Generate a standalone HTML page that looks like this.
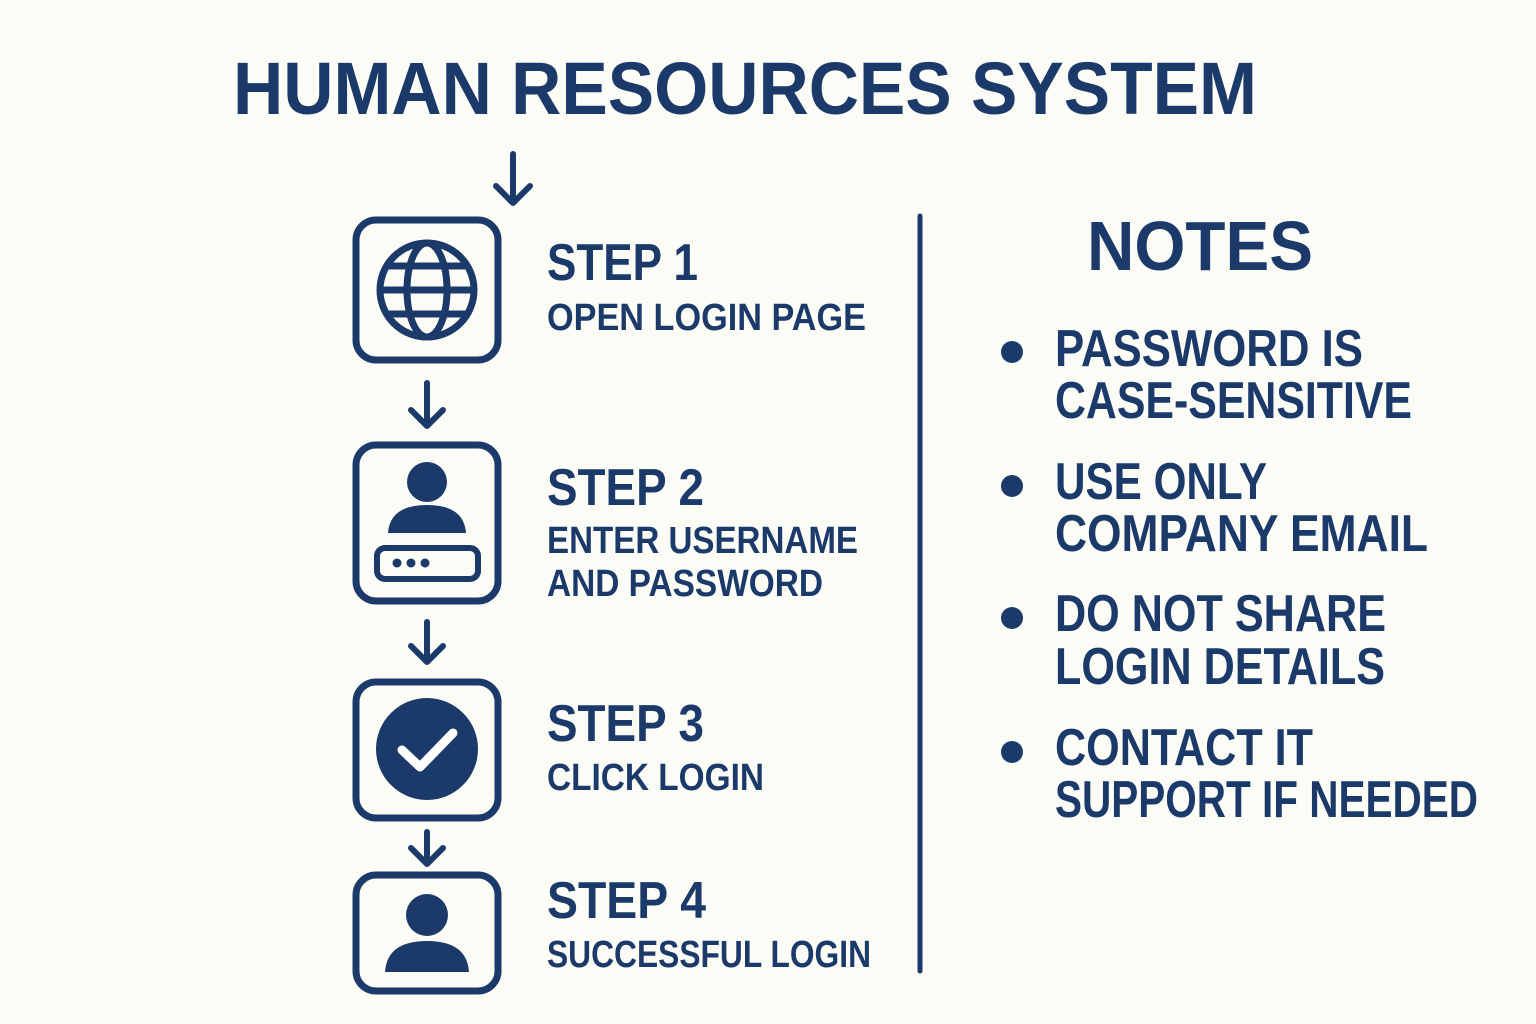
<!DOCTYPE html>
<html><head><meta charset="utf-8"><style>
html,body{margin:0;padding:0;background:#fcfcf7;}
svg{display:block}
text{font-family:"Liberation Sans","DejaVu Sans",sans-serif;font-weight:bold;fill:#1b3a6a}
</style></head><body>
<svg width="1536" height="1024" viewBox="0 0 1536 1024">
<rect width="1536" height="1024" fill="#fcfcf7"/>
<g fill="none" stroke="#1b3a6a" stroke-linecap="round" stroke-linejoin="round">
<g stroke-width="6">
<path d="M513 154V202M496 186L513 203L530 186"/>
<path d="M427 383V425M411 410L427 426L443 410"/>
<path d="M427 622V661M411 646L427 662L443 646"/>
<path d="M427 832V863M411 848L427 864L443 848"/>
</g>
<g stroke-width="7">
<rect x="356" y="220" width="142" height="140" rx="20"/>
<rect x="356" y="445" width="142" height="156" rx="20"/>
<rect x="356" y="682" width="142" height="136" rx="20"/>
<rect x="356" y="875" width="142" height="116" rx="20"/>
</g>
<g stroke-width="7">
<circle cx="427" cy="290" r="47"/>
<ellipse cx="427" cy="290" rx="20" ry="47"/>
<path d="M388 266H466M381 290H473M388 314H466" stroke-linecap="butt"/>
</g>
<rect x="377" y="548" width="101" height="31" rx="8" stroke-width="6"/>
<line x1="920" y1="216" x2="920" y2="971" stroke-width="5"/>
</g>
<g fill="#1b3a6a">
<circle cx="427" cy="482" r="20"/>
<path d="M388 533Q390 505 427 505Q464 505 466 533Z"/>
<circle cx="397" cy="563" r="4.5"/><circle cx="411" cy="563" r="4.5"/><circle cx="425" cy="563" r="4.5"/>
<circle cx="427" cy="749" r="51"/>
<circle cx="427" cy="915" r="21"/>
<path d="M385 972Q387 941 427 941Q467 941 469 972Z"/>
<circle cx="1012" cy="352" r="11"/>
<circle cx="1012" cy="486" r="11"/>
<circle cx="1012" cy="618" r="11"/>
<circle cx="1012" cy="752" r="11"/>
</g>
<path d="M402 750L420 767L453 733" fill="none" stroke="#fff" stroke-width="9" stroke-linecap="round" stroke-linejoin="round"/>

<text x="233" y="114" font-size="74" textLength="1024" lengthAdjust="spacingAndGlyphs">HUMAN RESOURCES SYSTEM</text>

<g font-size="52">
<text x="547" y="280" textLength="151" lengthAdjust="spacingAndGlyphs">STEP 1</text>
<text x="547" y="505" textLength="157" lengthAdjust="spacingAndGlyphs">STEP 2</text>
<text x="547" y="741" textLength="157" lengthAdjust="spacingAndGlyphs">STEP 3</text>
<text x="547" y="918" textLength="159" lengthAdjust="spacingAndGlyphs">STEP 4</text>
</g>
<g font-size="38">
<text x="547" y="330" textLength="319" lengthAdjust="spacingAndGlyphs">OPEN LOGIN PAGE</text>
<text x="547" y="553" textLength="311" lengthAdjust="spacingAndGlyphs">ENTER USERNAME</text>
<text x="547" y="596" textLength="276" lengthAdjust="spacingAndGlyphs">AND PASSWORD</text>
<text x="547" y="790" textLength="217" lengthAdjust="spacingAndGlyphs">CLICK LOGIN</text>
<text x="547" y="967" textLength="324" lengthAdjust="spacingAndGlyphs">SUCCESSFUL LOGIN</text>
</g>

<text x="1087" y="270" font-size="70" textLength="226" lengthAdjust="spacingAndGlyphs">NOTES</text>
<g font-size="52">
<text x="1055" y="366" textLength="308" lengthAdjust="spacingAndGlyphs">PASSWORD IS</text>
<text x="1055" y="418" textLength="357" lengthAdjust="spacingAndGlyphs">CASE-SENSITIVE</text>
<text x="1055" y="499" textLength="212" lengthAdjust="spacingAndGlyphs">USE ONLY</text>
<text x="1055" y="551" textLength="373" lengthAdjust="spacingAndGlyphs">COMPANY EMAIL</text>
<text x="1055" y="631" textLength="331" lengthAdjust="spacingAndGlyphs">DO NOT SHARE</text>
<text x="1055" y="684" textLength="330" lengthAdjust="spacingAndGlyphs">LOGIN DETAILS</text>
<text x="1055" y="765" textLength="258" lengthAdjust="spacingAndGlyphs">CONTACT IT</text>
<text x="1055" y="817" textLength="423" lengthAdjust="spacingAndGlyphs">SUPPORT IF NEEDED</text>
</g>
</svg>
</body></html>
